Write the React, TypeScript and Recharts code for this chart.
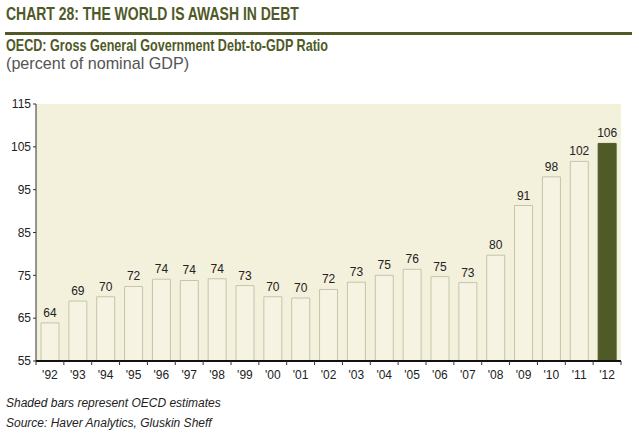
import { BarChart, Bar, XAxis, YAxis, CartesianGrid, LabelList, Cell } from "recharts";

// OECD gross general government debt, % of nominal GDP
const years = ["'92", "'93", "'94", "'95", "'96", "'97", "'98", "'99", "'00", "'01", "'02", "'03", "'04", "'05", "'06", "'07", "'08", "'09", "'10", "'11", "'12"];
const debtRatio = [63.9, 69.0, 70.0, 72.4, 74.1, 73.8, 74.2, 72.6, 70.0, 69.7, 71.7, 73.4, 75.0, 76.4, 74.7, 73.3, 79.7, 91.3, 98.0, 101.6, 105.8];
const estimate = [false, false, false, false, false, false, false, false, false, false, false, false, false, false, false, false, false, false, false, false, true];
const yTicks = [55, 65, 75, 85, 95, 105, 115];

const data = years.map((year, i) => ({ year, value: debtRatio[i], est: estimate[i] }));

const OLIVE = "#4f5a27";
const CHART_W = 639;
const MARGIN = { top: 14, right: 18, bottom: 0, left: 0 };
const Y_W = 36;
const bandW = (CHART_W - MARGIN.left - MARGIN.right - Y_W) / years.length;

const XTick = (props: any) => {
    const { x, y, payload, index } = props;
    return (
        <g>
            <line x1={x + bandW / 2} x2={x + bandW / 2} y1={y - 8} y2={y - 4} stroke="#333" strokeWidth={1} />
            {index === 0 && <line x1={x - bandW / 2} x2={x - bandW / 2} y1={y - 8} y2={y - 4} stroke="#333" />}
            <text x={x} y={y + 10} textAnchor="middle" fontSize={12} fill="#222" fontFamily="Liberation Sans, Arial, sans-serif">
                {payload.value}
            </text>
        </g>
    );
};

const condensed = (scale: number): any => ({
    transform: `scaleX(${scale})`,
    transformOrigin: "left top",
    whiteSpace: "nowrap",
});

export default function App() {
    return (
        <div style={{ position: "absolute", left: 0, top: 0, width: 639, height: 436, background: "#fff", fontFamily: "Liberation Sans, Arial, sans-serif" }}>
            <div style={{ position: "absolute", left: 6, top: 4, fontWeight: "bold", fontSize: 19, lineHeight: "20px", color: OLIVE, ...condensed(0.735) }}>
                CHART 28: THE WORLD IS AWASH IN DEBT
            </div>
            <div style={{ position: "absolute", left: 5, top: 32, width: 627, height: 3, background: OLIVE }} />
            <div style={{ position: "absolute", left: 6, top: 37, fontWeight: "bold", fontSize: 17, lineHeight: "17px", color: OLIVE, ...condensed(0.74) }}>
                OECD: Gross General Government Debt-to-GDP Ratio
            </div>
            <div style={{ position: "absolute", left: 6, top: 55, fontSize: 17, lineHeight: "17px", color: "#555", ...condensed(0.95) }}>
                (percent of nominal GDP)
            </div>

            <div style={{ position: "absolute", left: 0, top: 90 }}>
                <BarChart width={CHART_W} height={300} data={data} margin={MARGIN} barCategoryGap={0}>
                    <CartesianGrid fill="#f3f0dc" horizontal={false} vertical={false} stroke="none" />
                    <YAxis
                        domain={[55, 115]}
                        ticks={yTicks}
                        width={Y_W}
                        axisLine={{ stroke: "#333" }}
                        tickLine={{ stroke: "#333" }}
                        tickSize={3}
                        tick={{ fontSize: 12, fill: "#222" }}
                        allowDataOverflow
                    />
                    <XAxis
                        dataKey="year"
                        height={29}
                        axisLine={{ stroke: "#111", strokeWidth: 2 }}
                        tickLine={false}
                        tick={<XTick />}
                        interval={0}
                    />
                    <Bar dataKey="value" barSize={18} stroke="#c5c4aa" strokeWidth={1} isAnimationActive={false}>
                        {data.map((d, i) => (
                            <Cell key={i} fill={d.est ? OLIVE : "#f6f3e3"} stroke={d.est ? OLIVE : "#c5c4aa"} />
                        ))}
                        <LabelList dataKey="value" position="top" offset={6} fontSize={12} fill="#222" formatter={(v: any) => Math.round(v)} />
                    </Bar>
                </BarChart>
            </div>

            <div style={{ position: "absolute", left: 6, top: 396, fontStyle: "italic", fontSize: 12, color: "#222" }}>
                Shaded bars represent OECD estimates
            </div>
            <div style={{ position: "absolute", left: 6, top: 416, fontStyle: "italic", fontSize: 12, color: "#222" }}>
                Source: Haver Analytics, Gluskin Sheff
            </div>
        </div>
    );
}
